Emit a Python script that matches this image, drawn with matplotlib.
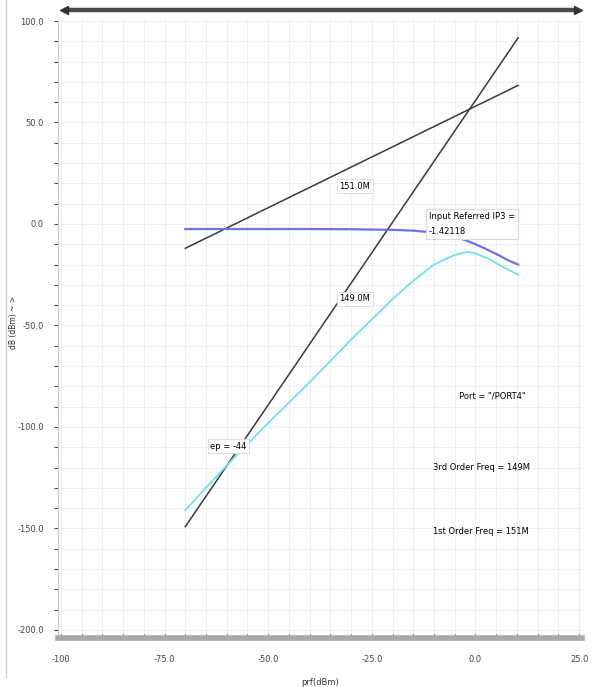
import numpy as np
import matplotlib
matplotlib.use("Agg")
import matplotlib.pyplot as plt
from matplotlib.lines import Line2D
from matplotlib.ticker import MultipleLocator, FixedLocator

# input power sweep and responses (dBm)
ext_x = [-70.0, 10.3]
first_order_y = [-12.0, 68.3]      # 1st order extrapolation (slope 1)
third_order_y = [-149.16, 91.74]   # 3rd order extrapolation (slope 3)

fund_x = [-70, -60, -50, -40, -30, -20, -15, -10, -5, -2, 0, 2, 4, 6, 8, 10.3]
fund_y = [-2.5, -2.5, -2.5, -2.5, -2.6, -2.9, -3.3, -4.2, -6.2, -8.3, -10.0,
          -11.8, -13.8, -15.8, -18.0, -20.0]

im3_x = [-70, -65, -60, -55, -50, -45, -40, -35, -30, -25, -20, -15, -10, -5,
         -2, 0, 3, 6, 10.3]
im3_y = [-141, -130, -119, -108.5, -98, -88, -78, -67.5, -57, -47, -37, -28,
         -20, -15.2, -13.8, -14.5, -17, -20.5, -25]

ytick_vals = [100, 50, 0, -50, -100, -150, -200]
ytick_txt = ["100.0", "50.0", "0.0", "-50.0", "-100.0", "-150.0", "-200.0"]
xtick_vals = [-100, -75, -50, -25, 0, 25]
xtick_txt = ["-100", "-75.0", "-50.0", "-25.0", "0.0", "25.0"]

W, H = 595, 687
fig = plt.figure(figsize=(W / 100, H / 100), dpi=100)
ax = fig.add_axes([58 / W, (H - 638) / H, 524 / W, 618 / H])
ax.set_xlim(-100.7, 25.7)
ax.set_ylim(-204, 100.5)

ax.plot(ext_x, first_order_y, color="#3a3a3a", lw=1.1)
ax.plot(ext_x, third_order_y, color="#3a3a3a", lw=1.1)
ax.plot(fund_x, fund_y, color="#6f6fe6", lw=1.6)
ax.plot(im3_x, im3_y, color="#72e2e2", lw=1.3)

# grid on minor divisions
ax.xaxis.set_minor_locator(MultipleLocator(5))
ax.yaxis.set_minor_locator(MultipleLocator(10))
ax.xaxis.set_major_locator(FixedLocator(xtick_vals))
ax.yaxis.set_major_locator(FixedLocator(ytick_vals))
ax.set_xticklabels(xtick_txt)
ax.set_yticklabels(ytick_txt)
ax.grid(True, which="both", color="#ececec", lw=0.6)
ax.set_axisbelow(True)

for s in ["top", "right"]:
    ax.spines[s].set_visible(False)
ax.spines["left"].set_color("#c8c8c8")
ax.spines["left"].set_linewidth(0.8)
ax.spines["bottom"].set_color("#a8a8a8")
ax.spines["bottom"].set_linewidth(4)
ax.tick_params(which="both", labelsize=6, colors="#444444", length=3, width=0.8)
ax.tick_params(axis="x", which="both", direction="in", pad=12)
ax.tick_params(axis="y", which="both", pad=7)

ax.set_xlabel("prf(dBm)", fontsize=6, color="#333333")
ax.xaxis.set_label_coords(0.5, -0.065)
ax.set_ylabel("dB (dBm) ~ >", fontsize=5.5, color="#333333")
ax.yaxis.set_label_coords(-0.076, 0.51)

box = dict(boxstyle="square,pad=0.3", fc="white", ec="#d8d8d8", lw=0.6)
ax.text(-29.1, 18.7, "151.0M", fontsize=6, ha="center", va="center", bbox=box)
ax.text(-29.1, -36.9, "149.0M", fontsize=6, ha="center", va="center", bbox=box)
ax.text(-59.6, -109.6, "ep = -44", fontsize=6, ha="center", va="center", bbox=box)
ax.text(-11.2, 0.0, "Input Referred IP3 =\n-1.42118", fontsize=6, ha="left",
        va="center", linespacing=1.8,
        bbox=dict(boxstyle="square,pad=0.4", fc="white", ec="#e2d2ea", lw=0.8))
ax.text(4.0, -84.6, 'Port = "/PORT4"', fontsize=6, ha="center", va="center")
ax.text(1.4, -120.0, "3rd Order Freq = 149M", fontsize=6, ha="center", va="center")
ax.text(1.4, -151.4, "1st Order Freq = 151M", fontsize=6, ha="center", va="center")

# scroll bar across the top and window edge on the left
fig.add_artist(Line2D([66 / W, 576 / W], [1 - 10 / H, 1 - 10 / H],
                      color="#4a4a4a", lw=3.2, solid_capstyle="butt"))
fig.add_artist(Line2D([64 / W], [1 - 10 / H], marker="<", ms=6, color="#333333"))
fig.add_artist(Line2D([578 / W], [1 - 10 / H], marker=">", ms=6, color="#333333"))
fig.add_artist(Line2D([6 / W, 6 / W], [10 / H, 1], color="#d0d0d0", lw=1))

fig.savefig("out.png", dpi=100)
